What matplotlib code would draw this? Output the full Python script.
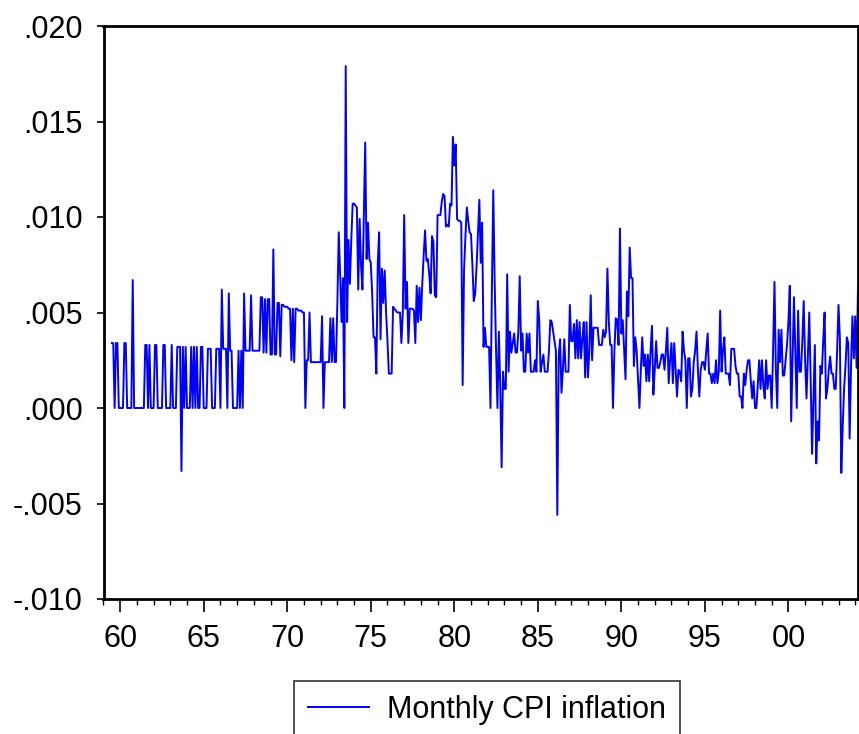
import numpy as np
import pandas as pd
import matplotlib
matplotlib.use("Agg")
import matplotlib.pyplot as plt
from matplotlib.ticker import FixedLocator, MultipleLocator

# ---------------- data ----------------
series_label = "Monthly CPI inflation"
start_period = "1959-07"

inflation = [
    # 1959 (Jul-Dec)
    .0034, .0034, .0000, .0034, .0034, .0000,
    # 1960
    .0000, .0000, .0000, .0034, .0034, .0000, .0000, .0000, .0000, .0067, .0000, .0000,
    # 1961
    .0000, .0000, .0000, .0000, .0000, .0000, .0033, .0033, .0000, .0033, .0000, .0000,
    # 1962
    .0000, .0033, .0033, .0000, .0000, .0000, .0000, .0033, .0033, .0000, .0000, .0000,
    # 1963
    .0000, .0033, .0000, .0000, .0000, .0032, .0032, .0032, -.0033, .0032, .0000, .0032,
    # 1964
    .0000, .0000, .0000, .0032, .0000, .0032, .0000, .0032, .0000, .0000, .0032, .0032,
    # 1965
    .0000, .0000, .0000, .0031, .0031, .0031, .0000, .0000, .0000, .0031, .0031, .0031,
    # 1966
    .0000, .0062, .0031, .0031, .0031, .0000, .0060, .0030, .0030, .0000, .0000, .0000,
    # 1967
    .0000, .0030, .0000, .0030, .0000, .0060, .0030, .0030, .0030, .0030, .0059, .0030,
    # 1968
    .0030, .0030, .0030, .0030, .0030, .0058, .0058, .0029, .0057, .0029, .0057, .0057,
    # 1969
    .0028, .0028, .0083, .0028, .0028, .0055, .0055, .0027, .0054, .0054, .0053, .0053,
    # 1970
    .0053, .0052, .0052, .0025, .0052, .0024, .0052, .0052, .0051, .0051, .0051, .0050,
    # 1971
    .0050, .0000, .0025, .0025, .0050, .0024, .0024, .0024, .0024, .0024, .0024, .0024,
    # 1972
    .0024, .0048, .0000, .0024, .0024, .0024, .0024, .0047, .0024, .0047, .0024, .0024,
    # 1973
    .0055, .0092, .0070, .0045, .0068, .0000, .0179, .0045, .0088, .0065, .0088, .0107,
    # 1974
    .0107, .0106, .0105, .0062, .0099, .0075, .0062, .0100, .0139, .0078, .0097, .0078,
    # 1975
    .0076, .0060, .0037, .0037, .0018, .0075, .0092, .0036, .0073, .0055, .0072, .0050,
    # 1976
    .0035, .0018, .0018, .0018, .0053, .0052, .0051, .0050, .0050, .0050, .0034, .0050,
    # 1977
    .0101, .0052, .0066, .0034, .0052, .0052, .0052, .0051, .0034, .0064, .0045, .0063,
    # 1978
    .0046, .0065, .0080, .0093, .0077, .0078, .0070, .0060, .0090, .0087, .0059, .0058,
    # 1979
    .0101, .0101, .0101, .0108, .0112, .0111, .0095, .0096, .0095, .0107, .0106, .0142,
    # 1980
    .0127, .0138, .0099, .0098, .0098, .0097, .0012, .0072, .0090, .0105, .0098, .0092,
    # 1981
    .0091, .0075, .0056, .0060, .0074, .0092, .0109, .0076, .0097, .0032, .0042, .0032,
    # 1982
    .0032, .0032, .0000, .0062, .0114, .0066, .0030, .0000, .0040, .0012, -.0031, .0019,
    # 1983
    .0010, .0010, .0070, .0019, .0040, .0029, .0034, .0039, .0029, .0029, .0040, .0069,
    # 1984
    .0030, .0039, .0019, .0019, .0039, .0029, .0039, .0019, .0019, .0019, .0025, .0019,
    # 1985
    .0056, .0046, .0019, .0024, .0028, .0019, .0019, .0019, .0030, .0046, .0045, .0040,
    # 1986
    .0035, .0030, -.0056, .0027, .0036, .0008, .0020, .0036, .0019, .0019, .0019, .0054,
    # 1987
    .0035, .0035, .0044, .0026, .0046, .0026, .0045, .0026, .0036, .0045, .0016, .0045,
    # 1988
    .0016, .0030, .0059, .0025, .0042, .0042, .0042, .0042, .0033, .0033, .0033, .0041,
    # 1989
    .0037, .0040, .0073, .0045, .0033, .0033, .0000, .0030, .0047, .0046, .0033, .0094,
    # 1990
    .0039, .0046, .0030, .0015, .0061, .0048, .0084, .0068, .0068, .0022, .0037, .0030,
    # 1991
    .0015, .0000, .0020, .0037, .0022, .0028, .0014, .0028, .0014, .0030, .0043, .0007,
    # 1992
    .0020, .0035, .0021, .0021, .0024, .0028, .0028, .0020, .0030, .0042, .0013, .0025,
    # 1993
    .0034, .0013, .0034, .0020, .0006, .0020, .0019, .0014, .0040, .0030, .0025, .0000,
    # 1994
    .0026, .0026, .0006, .0010, .0024, .0030, .0040, .0020, .0006, .0020, .0024, .0024,
    # 1995
    .0020, .0030, .0039, .0018, .0018, .0013, .0018, .0013, .0025, .0013, .0019, .0051,
    # 1996
    .0019, .0030, .0037, .0018, .0018, .0018, .0012, .0031, .0031, .0031, .0022, .0018,
    # 1997
    .0018, .0006, .0006, .0000, .0018, .0012, .0020, .0025, .0025, .0014, .0005, .0014,
    # 1998
    .0000, .0000, .0012, .0025, .0010, .0025, .0012, .0005, .0025, .0010, .0017, .0017,
    # 1999
    .0000, .0030, .0066, .0020, .0000, .0041, .0024, .0041, .0017, .0017, .0025, .0033,
    # 2000
    .0045, .0064, -.0007, .0025, .0058, .0030, .0000, .0051, .0019, .0019, .0035, .0056,
    # 2001
    .0025, .0005, .0028, .0050, .0015, -.0024, .0005, .0033, -.0029, -.0007, -.0017, .0022,
    # 2002
    .0018, .0035, .0050, .0005, .0010, .0020, .0027, .0018, .0018, .0010, .0010, .0030,
    # 2003
    .0054, .0036, -.0034, -.0010, .0010, .0022, .0037, .0034, -.0016, .0022, .0048, .0026,
    # 2004 (Jan-Mar)
    .0048, .0021, .0063,
]

ytick_values = [-0.010, -0.005, 0.000, 0.005, 0.010, 0.015, 0.020]
ytick_labels = ["-.010", "-.005", ".000", ".005", ".010", ".015", ".020"]
xtick_years = [1960, 1965, 1970, 1975, 1980, 1985, 1990, 1995, 2000]
xtick_labels = ["60", "65", "70", "75", "80", "85", "90", "95", "00"]
axis_start_year = 1959

# ---------------- plot ----------------
plt.rcParams["font.family"] = ["Liberation Sans", "DejaVu Sans"]

periods = pd.period_range(start_period, periods=len(inflation), freq="M")
t = periods.year + (periods.month - 1) / 12.0

W, H = 859, 734
fig = plt.figure(figsize=(W / 100, H / 100), dpi=100)
left, right, top, bottom = 103.5, 858.0, 26.0, 599.0
ax = fig.add_axes([left / W, 1 - bottom / H, (right - left) / W, (bottom - top) / H])

ax.plot(t, inflation, color="#0000FF", lw=1.4, label=series_label)

ax.set_xlim(axis_start_year, t[-1])
ax.set_ylim(ytick_values[0], ytick_values[-1])

ax.yaxis.set_major_locator(FixedLocator(ytick_values))
ax.set_yticklabels(ytick_labels)
ax.xaxis.set_major_locator(FixedLocator(xtick_years))
ax.set_xticklabels(xtick_labels)
ax.xaxis.set_minor_locator(MultipleLocator(1))

for s in ax.spines.values():
    s.set_linewidth(2.0)
    s.set_color("black")

ax.tick_params(axis="y", which="major", direction="out", length=5, width=1.2,
               labelsize=22, pad=10)
ax.tick_params(axis="x", which="major", direction="out", length=9, width=1.2,
               labelsize=22, pad=9)
ax.tick_params(axis="x", which="minor", direction="out", length=4, width=1.0)

leg = fig.legend(loc="center", bbox_to_anchor=(487 / W, 1 - 710 / H),
                 frameon=True, fancybox=False, edgecolor="black",
                 fontsize=22, handlelength=2.0, handletextpad=0.6,
                 borderpad=0.45, borderaxespad=0)
leg.get_frame().set_linewidth(1.2)

fig.savefig("out.png", dpi=100)
